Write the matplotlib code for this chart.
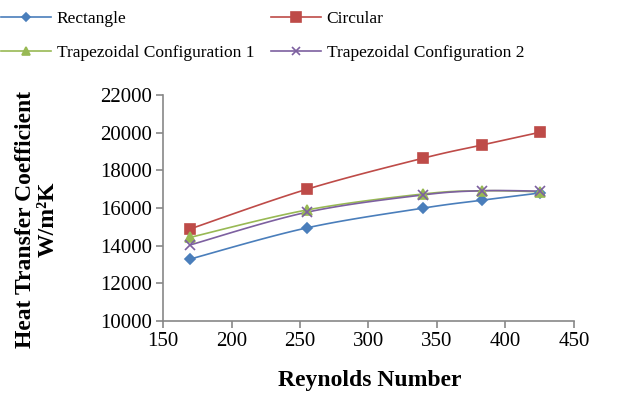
import numpy as np
import matplotlib
matplotlib.use("Agg")
import matplotlib.pyplot as plt
from matplotlib.lines import Line2D

plt.rcParams['font.family'] = ['Liberation Serif', 'DejaVu Serif']

# ---- data ----
reynolds = [170, 255, 340, 383, 425]
rectangle = [13300, 14950, 16000, 16420, 16800]
circular = [14900, 17000, 18650, 19350, 20020]
trap1 = [14450, 15900, 16750, 16920, 16870]
trap2 = [14050, 15780, 16700, 16920, 16900]

labels = ['Rectangle', 'Circular', 'Trapezoidal Configuration 1', 'Trapezoidal Configuration 2']
colors = ['#4A7EBB', '#BE4B48', '#98B954', '#7D60A0']
markers = ['D', 's', '^', 'x']
msizes = [5.5, 7.5, 6.5, 6.5]

XLIM = (150, 450)
YLIM = (10000, 22000)


def smooth(xs, ys, n=30):
    """Excel-like smoothed line: cubic bezier with catmull-rom control points."""
    x = (np.asarray(xs, float) - XLIM[0]) / (XLIM[1] - XLIM[0]) * 411
    y = (np.asarray(ys, float) - YLIM[0]) / (YLIM[1] - YLIM[0]) * 226
    P = np.column_stack([x, y])
    Pext = np.vstack([P[0], P, P[-1]])
    out = []
    t = np.linspace(0, 1, n)[:, None]
    for i in range(len(P) - 1):
        p0, p1, p2, p3 = Pext[i], Pext[i + 1], Pext[i + 2], Pext[i + 3]
        c1 = p1 + (p2 - p0) / 6
        c2 = p2 - (p3 - p1) / 6
        seg = ((1 - t) ** 3) * p1 + 3 * ((1 - t) ** 2) * t * c1 + 3 * (1 - t) * t ** 2 * c2 + t ** 3 * p2
        out.append(seg)
    c = np.vstack(out)
    cx = c[:, 0] / 411 * (XLIM[1] - XLIM[0]) + XLIM[0]
    cy = c[:, 1] / 226 * (YLIM[1] - YLIM[0]) + YLIM[0]
    return cx, cy


fig = plt.figure(figsize=(6.32, 3.96), dpi=100)
ax = fig.add_axes([0.258, 0.189, 0.650, 0.571])

series = [rectangle, circular, trap1, trap2]
handles = []
for vals, lab, col, mk, ms in zip(series, labels, colors, markers, msizes):
    cx, cy = smooth(reynolds, vals)
    ax.plot(cx, cy, color=col, lw=1.2, zorder=2)
    ax.plot(reynolds, vals, linestyle='none', marker=mk, color=col, ms=ms,
            mew=1.2, zorder=3)
    handles.append(Line2D([], [], color=col, lw=1.2, marker=mk, ms=ms - 1, mew=1.2))

ax.set_xlim(*XLIM)
ax.set_ylim(*YLIM)
ax.set_xticks(np.arange(150, 451, 50))
ax.set_yticks(np.arange(10000, 22001, 2000))
ax.tick_params(axis='both', labelsize=15, length=5, width=1.2, color='#878787', pad=3)
for s in ['top', 'right']:
    ax.spines[s].set_visible(False)
for s in ['left', 'bottom']:
    ax.spines[s].set_color('#878787')
    ax.spines[s].set_linewidth(1.2)

fig.text(0.585, 0.04, 'Reynolds Number', ha='center', va='center',
         fontsize=17, fontweight='bold')
fig.text(0.041, 0.447, 'Heat Transfer Coefficient', rotation=90, ha='center',
         va='center', fontsize=17, fontweight='bold')
fig.text(0.077, 0.447, 'W/m²K', rotation=90, ha='center',
         va='center', fontsize=17, fontweight='bold')

legkw = dict(loc='upper left', frameon=False, fontsize=12.5, handlelength=2.9,
             handletextpad=0.3, labelspacing=1.0, borderpad=0, borderaxespad=0)
leg1 = fig.legend(handles=[handles[0], handles[2]], labels=[labels[0], labels[2]],
                  bbox_to_anchor=(1 / 632, 1 - 11 / 396), **legkw)
leg2 = fig.legend(handles=[handles[1], handles[3]], labels=[labels[1], labels[3]],
                  bbox_to_anchor=(271 / 632, 1 - 11 / 396), **legkw)

fig.savefig('out.png', dpi=100)
